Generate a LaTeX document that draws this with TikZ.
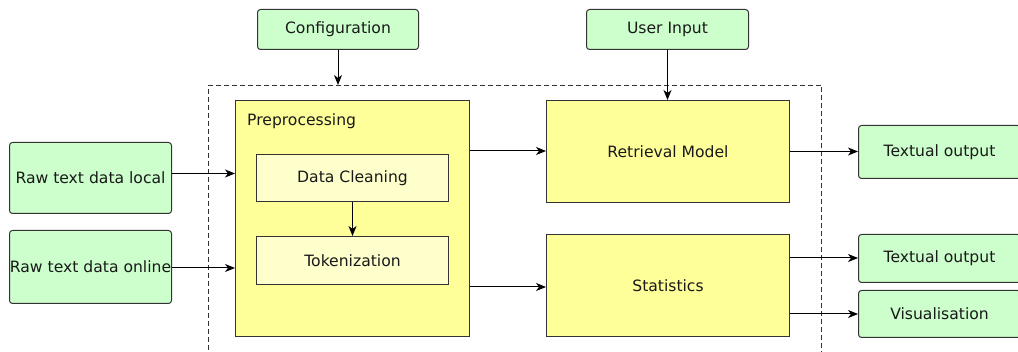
\documentclass[tikz,border=0pt]{standalone}
\usepackage{fontspec}
\setmainfont{DejaVu Sans}
\usetikzlibrary{arrows.meta}
\definecolor{gfill}{HTML}{CCFFCC}
\definecolor{yfill}{HTML}{FFFF99}
\definecolor{lyfill}{HTML}{FFFFCC}
\definecolor{edge}{HTML}{333333}
\tikzset{
  base/.style={draw=edge, line width=1pt, inner sep=0pt, anchor=north west, font=\fontsize{15.6}{18}\selectfont, text=black!90},
  gbox/.style={base, fill=gfill, rounded corners=3pt},
  ybox/.style={base, fill=yfill},
  lybox/.style={base, fill=lyfill},
  conn/.style={draw=black, line width=1pt, -{Stealth[length=10pt,width=8pt,inset=3pt]}},
  grp/.style={draw=edge, line width=1pt, dash pattern=on 5pt off 3pt, inner sep=0pt, anchor=north west},
}
\begin{document}
\begin{tikzpicture}[x=1pt,y=-1pt]
\useasboundingbox (0,0) rectangle (1018,352);
\clip (0,0) rectangle (1018,352);
\node[grp, minimum width=613pt, minimum height=290pt] (grp) at (208,85) {};
\node[gbox, minimum width=161pt, minimum height=40pt] (cfg) at (257,9) {Configuration};
\node[gbox, minimum width=162pt, minimum height=40pt] (usr) at (586,9) {User Input};
\node[ybox, minimum width=234pt, minimum height=236pt] (pre) at (235,100) {};
\node[anchor=west, inner sep=0pt, font=\fontsize{15.6}{18}\selectfont, text=black!90] (prelbl) at (247,121) {Preprocessing};
\node[lybox, minimum width=192pt, minimum height=47pt] (clean) at (256,154) {Data Cleaning};
\node[lybox, minimum width=192pt, minimum height=48pt] (tok) at (256,236) {Tokenization};
\node[ybox, minimum width=243pt, minimum height=102pt] (ret) at (546,100) {Retrieval Model};
\node[ybox, minimum width=243pt, minimum height=102pt] (stat) at (546,234) {Statistics};
\node[gbox, minimum width=162pt, minimum height=71pt] (raw1) at (9,142) {Raw text data local};
\node[gbox, minimum width=162pt, minimum height=73pt] (raw2) at (9,230) {Raw text data online};
\node[gbox, minimum width=162pt, minimum height=53pt] (out1) at (858,125) {Textual output};
\node[gbox, minimum width=162pt, minimum height=48pt] (out2) at (858,234) {Textual output};
\node[gbox, minimum width=162pt, minimum height=47pt] (vis) at (858,290) {Visualisation};
\coordinate (r1) at ([yshift=4.5pt]raw1.east);
\coordinate (r2) at ([yshift=-1pt]raw2.east);
\draw[conn] (cfg.south) -- (cfg.south |- grp.north);
\draw[conn] (usr.south) -- (usr.south |- ret.north);
\draw[conn] (r1) -- (r1 -| pre.west);
\draw[conn] (r2) -- (r2 -| pre.west);
\draw[conn] (clean.south) -- (tok.north);
\coordinate (p1) at ([yshift=-51pt]pre.north east);
\coordinate (p2) at ([yshift=50pt]pre.south east);
\draw[conn] (p1) -- (p1 -| ret.west);
\draw[conn] (p2) -- (p2 -| stat.west);
\draw[conn] (ret.east) -- (ret.east -| out1.west);
\coordinate (s1) at ([yshift=-24pt]stat.north east);
\coordinate (s2) at ([yshift=23pt]stat.south east);
\draw[conn] (s1) -- (s1 -| out2.west);
\draw[conn] (s2) -- (s2 -| vis.west);
\end{tikzpicture}
\end{document}
